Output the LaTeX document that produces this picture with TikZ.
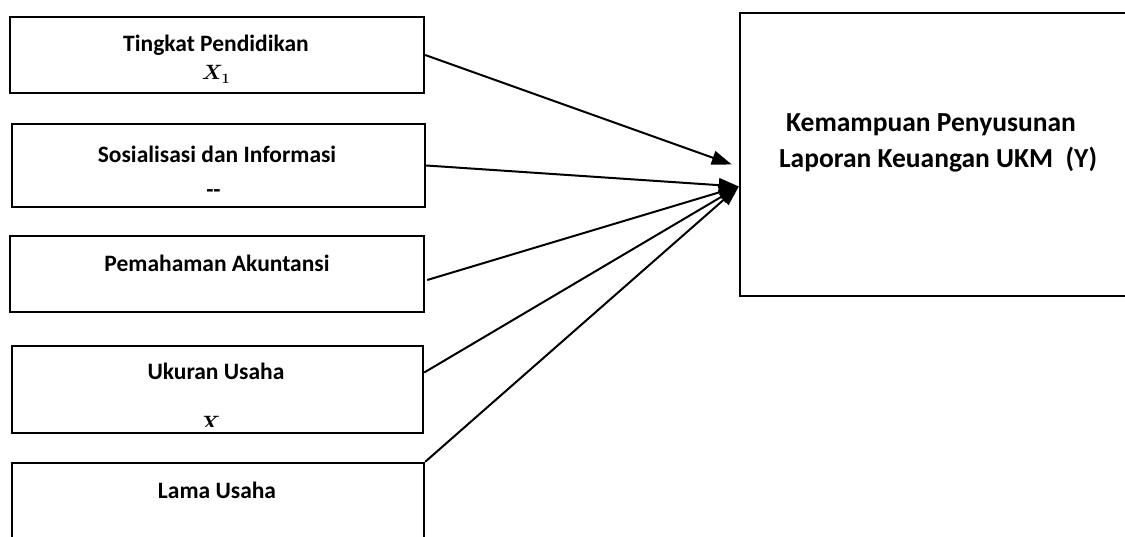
\documentclass[tikz,border=0pt]{standalone}
\usepackage{fontspec}
\setmainfont{Carlito}
\usepackage{amsmath,amssymb}
\usetikzlibrary{arrows.meta,positioning,calc}

\tikzset{
  varbox/.style={draw,rectangle,line width=2.4pt,inner sep=0pt},
  lbl/.style={font=\fontsize{23.5}{28}\selectfont\bfseries,anchor=base,inner sep=0pt},
  biglbl/.style={lbl,font=\fontsize{27.5}{33}\selectfont\bfseries},
  sym/.style={font=\fontsize{21}{24}\selectfont,anchor=base,inner sep=0pt},
  link/.style={line width=2pt,-{Triangle[length=20pt,width=14pt]}}
}

\begin{document}
\begin{tikzpicture}[x=1pt,y=-1pt]
  \useasboundingbox (0,0) rectangle (1125,537);
  \clip (0,0) rectangle (1125,537);
  % independent variables
  \node[varbox,minimum width=414pt,minimum height=76pt] (pend) at (217,55) {};
  \node[varbox,minimum width=413pt,minimum height=83pt] (sos) at (218.5,165.5) {};
  \node[varbox,minimum width=414pt,minimum height=76pt] (pem) at (217,274) {};
  \node[varbox,minimum width=411pt,minimum height=87pt] (uku) at (217.5,389.5) {};
  \node[varbox,minimum width=412pt,minimum height=100pt] (lam) at (218,513) {};
  % dependent variable
  \node[varbox,minimum width=400pt,minimum height=283pt] (ykm) at (940,154.5) {};

  \node[lbl] (tPend) at (216,52) {Tingkat Pendidikan};
  \begin{scope}
    \clip (150,60) rectangle (280,84);
    \node[sym] (xPend) at (216,80) {$\boldsymbol{X_1}$};
  \end{scope}
  \node[lbl] (tSos) at (217,163) {Sosialisasi dan Informasi};
  \node[lbl] (xSos) at (213.5,198) {{-}{-}};
  \node[lbl] (tPem) at (217,272) {Pemahaman Akuntansi};
  \node[lbl] (tUku) at (216,380) {Ukuran Usaha};
  \begin{scope}
    \clip (150,400) rectangle (280,426);
    \node[sym] (xUku) at (210,430) {$\boldsymbol{X}$};
  \end{scope}
  \node[lbl] (tLam) at (217,498) {Lama Usaha};
  \node[biglbl] (tY1) at (931,132) {Kemampuan Penyusunan};
  \node[biglbl] (tY2) at (938,168) {Laporan Keuangan UKM\ \ (Y)};

  % arrows into Y
  \coordinate (hitA) at ($(ykm.west)+(-7,10)$);
  \coordinate (hitB) at ($(ykm.west)+(0,32)$);
  \draw[link] (pend.east) -- (hitA);
  \draw[link] (sos.east) -- (hitB);
  \draw[link] ($(pem.east)+(2,6)$) -- (hitB);
  \draw[link] ($(uku.east)+(0,-17)$) -- (hitB);
  \draw[link] (lam.north east) -- (hitB);
\end{tikzpicture}
\end{document}
